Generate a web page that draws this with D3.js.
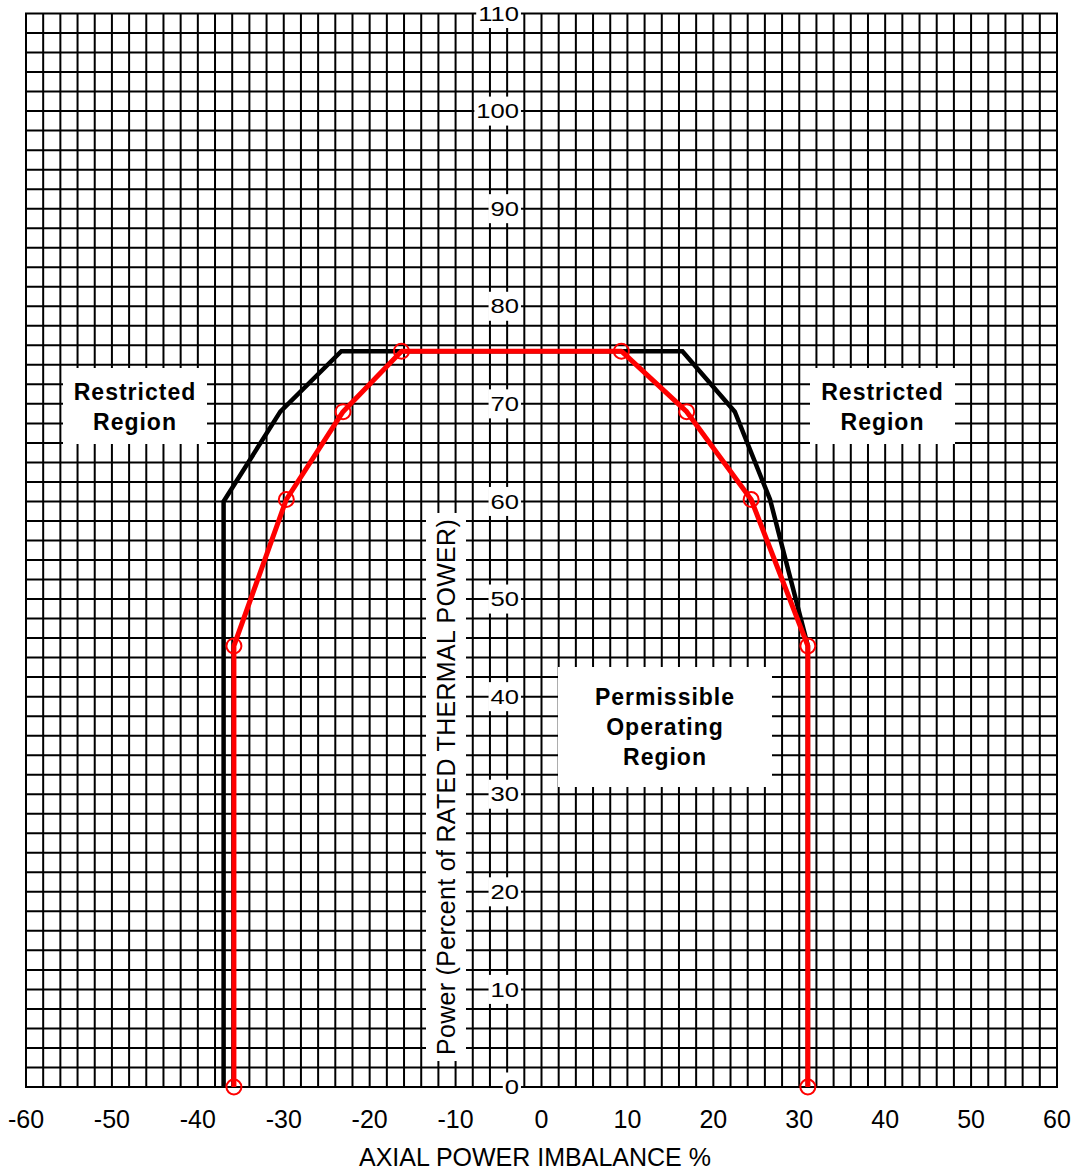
<!DOCTYPE html>
<html>
<head>
<meta charset="utf-8">
<script src="https://cdn.jsdelivr.net/npm/d3@7"></script>
<style>
  html, body { margin: 0; padding: 0; background: #fff; }
  svg { display: block; }
  text { font-family: "Liberation Sans", Arial, sans-serif; fill: #000; }
</style>
</head>
<body>
<svg id="chart" width="1078" height="1173"></svg>
<script>
// ---- data ----
const xTicks = [-60, -50, -40, -30, -20, -10, 0, 10, 20, 30, 40, 50, 60];
const yTicks = [0, 10, 20, 30, 40, 50, 60, 70, 80, 90, 100, 110];
const limitX = [-37, -37, -30.4, -23.3, 16.4, 22.5, 26.6, 31, 31];
const limitY = [0, 60, 69.2, 75.4, 75.4, 69.2, 60.2, 45.2, 0];
const opX = [-35.8, -35.8, -29.7, -23.1, -16.3, 9.3, 16.9, 24.4, 31, 31];
const opY = [0, 45.2, 60.2, 69.2, 75.4, 75.4, 69.2, 60.2, 45.2, 0];
const xTitle = "AXIAL POWER IMBALANCE %";
const yTitle = "Power (Percent of RATED THERMAL  POWER)";
const notes = [
  { lines: ["Restricted", "Region"], cx: 135, top: 368, w: 144, h: 76, y0: 400 },
  { lines: ["Restricted", "Region"], cx: 882.5, top: 368, w: 145, h: 76, y0: 400 },
  { lines: ["Permissible", "Operating", "Region"], cx: 665, top: 667, w: 214, h: 120, y0: 705 }
];

const svg = d3.select("#chart");
const x = d3.scaleLinear().domain([-60, 60]).range([26, 1057]);
const y = d3.scaleLinear().domain([0, 110]).range([1087, 13.5]);

// ---- grid ----
const grid = svg.append("g");
grid.selectAll(".v").data(d3.range(-60, 61, 2)).join("line")
  .attr("x1", d => x(d)).attr("x2", d => x(d))
  .attr("y1", y(0)).attr("y2", y(110))
  .attr("stroke", "#000").attr("stroke-width", 2);
grid.selectAll(".h").data(d3.range(0, 111, 2)).join("line")
  .attr("y1", d => y(d)).attr("y2", d => y(d))
  .attr("x1", x(-60) - 1).attr("x2", x(60) + 1)
  .attr("stroke", "#000").attr("stroke-width", 2);

// ---- lines ----
const line = d3.line().x(d => x(d[0])).y(d => y(d[1]));
const limitPts = limitX.map((v, i) => [v, limitY[i]]);
const opPts = opX.map((v, i) => [v, opY[i]]);
svg.append("path").attr("d", line(limitPts)).attr("fill", "none")
  .attr("stroke", "#000").attr("stroke-width", 4.5).attr("stroke-linejoin", "miter");
svg.append("path").attr("d", line(opPts)).attr("fill", "none")
  .attr("stroke", "#ff0000").attr("stroke-width", 5).attr("stroke-linejoin", "round");
svg.selectAll(".pt").data(opPts).join("circle")
  .attr("cx", d => x(d[0])).attr("cy", d => y(d[1])).attr("r", 7.5)
  .attr("fill", "none").attr("stroke", "#ff0000").attr("stroke-width", 2);

// ---- y tick labels (on white boxes) ----
yTicks.forEach(v => {
  const g = svg.append("g").attr("transform", `translate(519,${y(v)}) scale(1.22,1)`);
  const r = g.append("rect").attr("fill", "#fff");
  const t = g.append("text").attr("text-anchor", "end").attr("dominant-baseline", "central")
    .attr("font-size", 21).text(v);
  const b = t.node().getBBox();
  r.attr("x", b.x - 1.6).attr("y", -14.5).attr("width", b.width + 3.2).attr("height", 29);
});

// ---- y title ----
{
  const g = svg.append("g").attr("transform", `translate(446,787) rotate(-90)`);
  const r = g.append("rect").attr("fill", "#fff");
  const t = g.append("text").attr("text-anchor", "middle").attr("dominant-baseline", "central")
    .attr("font-size", 25).attr("letter-spacing", 0.3).text(yTitle);
  const b = t.node().getBBox();
  r.attr("x", b.x - 6).attr("y", -20).attr("width", b.width + 12).attr("height", 40);
}

// ---- x tick labels ----
svg.selectAll(".xt").data(xTicks).join("text")
  .attr("x", d => x(d)).attr("y", 1127.5).attr("text-anchor", "middle")
  .attr("font-size", 25).text(d => d);
svg.append("text").attr("x", 535).attr("y", 1166).attr("text-anchor", "middle")
  .attr("font-size", 25).text(xTitle);

// ---- annotations ----
notes.forEach(n => {
  svg.append("rect").attr("x", n.cx - n.w / 2).attr("y", n.top)
    .attr("width", n.w).attr("height", n.h).attr("fill", "#fff");
  n.lines.forEach((s, i) => {
    svg.append("text").attr("x", n.cx).attr("y", n.y0 + i * 30)
      .attr("text-anchor", "middle").attr("font-size", 23).attr("font-weight", "bold")
      .attr("letter-spacing", 1).text(s);
  });
});
</script>
</body>
</html>
